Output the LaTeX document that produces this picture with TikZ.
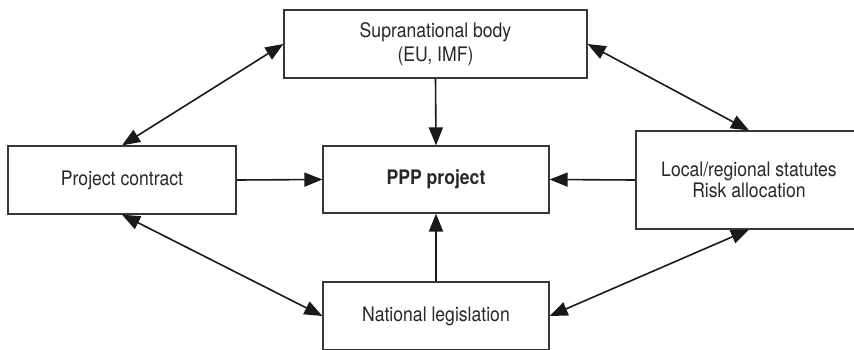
\documentclass[tikz,border=0pt]{standalone}
\usepackage{fontspec}
\setmainfont{TeX Gyre Heros}[FakeStretch=0.88]
\usetikzlibrary{arrows.meta, positioning}
\definecolor{boxline}{RGB}{55,55,55}
\definecolor{textgray}{RGB}{40,40,40}
\definecolor{arrowcolor}{RGB}{25,25,25}

\begin{document}
\begin{tikzpicture}[x=1pt, y=-1pt,
    box/.style={draw=boxline, line width=1.2pt, fill=white, text=textgray,
        align=center, inner sep=0pt, font=\fontsize{20}{23}\selectfont},
    link/.style={draw=arrowcolor, line width=1.6pt,
        -{Triangle[length=18pt,width=14pt]}},
    twoway/.style={link, {Triangle[length=18pt,width=14pt]}-{Triangle[length=18pt,width=14pt]}}
]
    \useasboundingbox (0,0) rectangle (854,349);
    \clip (0,0) rectangle (854,349);

    % boxes
    \node[box, minimum width=303pt, minimum height=68pt,
        font=\fontsize{20}{24.5}\selectfont] (supra) at (435.5,44)
        {Supranational body\\(EU, IMF)};
    \node[box, minimum width=228pt, minimum height=68pt] (contract) at (122,180)
        {Project contract};
    \node[box, minimum width=226pt, minimum height=67pt,
        font=\fontsize{20}{23}\selectfont\bfseries] (ppp) at (436,179.5)
        {PPP project};
    \node[box, minimum width=226pt, minimum height=98pt,
        font=\fontsize{20}{21}\selectfont] (local) at (749,180)
        {Local/regional statutes\\Risk allocation};
    \node[box, minimum width=226pt, minimum height=68pt] (national) at (436,316)
        {National legislation};

    % links
    \draw[twoway] (supra.west) -- (contract.north);
    \draw[twoway] (supra.east) -- (local.north);
    \draw[link] (supra.south) -- (ppp.north);
    \draw[link] (contract.east) -- (ppp.west);
    \draw[link] (local.west) -- (ppp.east);
    \draw[link] (national.north) -- (ppp.south);
    \draw[twoway] (contract.south) -- (national.west);
    \draw[twoway] (local.south) -- (national.east);
\end{tikzpicture}
\end{document}
